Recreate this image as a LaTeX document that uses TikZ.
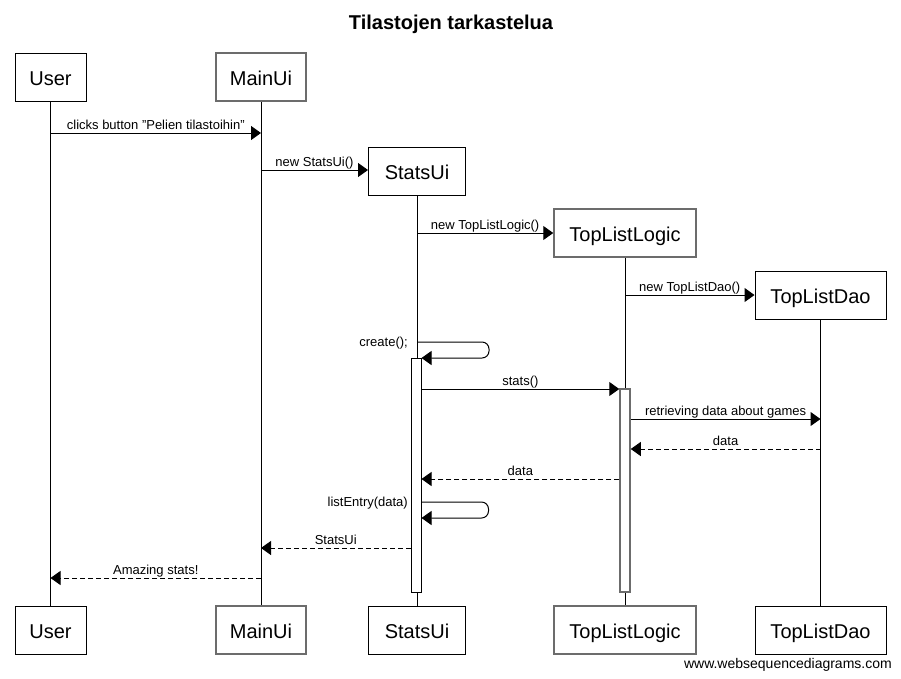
\documentclass[tikz,border=0pt]{standalone}
\usepackage{fontspec}
\setmainfont{Liberation Sans}
\usetikzlibrary{arrows.meta}
\begin{document}
\begin{tikzpicture}[x=1pt,y=-1pt,
  actor/.style={draw=black,line width=1pt,fill=white,minimum height=48pt,inner sep=0pt,text height=17pt,text depth=1pt,font=\fontsize{20}{22}\selectfont},
  grayactor/.style={actor,draw=gray!85!black,line width=1.5pt},
  life/.style={draw=black,line width=1pt},
  msg/.style={draw=black,line width=1pt,-{Triangle[length=10pt,width=14pt]}},
  ret/.style={msg,dash pattern=on 5pt off 3pt},
  lbl/.style={font=\fontsize{13}{15}\selectfont,anchor=base,inner sep=0pt,yshift=4pt},
  slbl/.style={font=\fontsize{13}{15}\selectfont,anchor=east,inner sep=0pt},
  act/.style={draw=black,line width=1pt,fill=white,minimum width=10pt,inner sep=0pt},
  grayact/.style={act,draw=gray!85!black,line width=1.5pt}]
\useasboundingbox (0,0) rectangle (901,678);
\fill[white] (0,0) rectangle (901,678);
\node[font=\fontsize{20}{22}\bfseries\selectfont,anchor=base,inner sep=0pt] (title) at (451,29) {Tilastojen tarkastelua};

% top boxes
\node[actor,minimum width=71pt] (userT) at (50.5,77) {User};
\node[grayactor,minimum width=90pt] (mainT) at (261,77) {MainUi};
\node[actor,minimum width=97pt] (statsT) at (417,171) {StatsUi};
\node[grayactor,minimum width=142pt] (logicT) at (625,233) {TopListLogic};
\node[actor,minimum width=131pt] (daoT) at (820.5,295) {TopListDao};
% bottom boxes
\node[actor,minimum width=71pt] (userB) at (50.5,630) {User};
\node[grayactor,minimum width=90pt] (mainB) at (261,630) {MainUi};
\node[actor,minimum width=97pt] (statsB) at (417,630) {StatsUi};
\node[grayactor,minimum width=142pt] (logicB) at (625,630) {TopListLogic};
\node[actor,minimum width=131pt] (daoB) at (820.5,630) {TopListDao};

% lifelines
\draw[life] (userT) -- (userB);
\draw[life] (mainT) -- (mainB);
\draw[life] (statsT) -- (statsB);
\draw[life] (logicT) -- (logicB);
\draw[life] (daoT) -- (daoB);

% activations
\node[act,minimum height=234pt] (statsAct) at (416,475) {};
\node[grayact,minimum height=203pt] (logicAct) at (625,490.5) {};

% message endpoints
\coordinate (m1a) at (userT |- 0,133);
\coordinate (m1b) at (mainT |- 0,133);
\coordinate (m2a) at (mainT |- 0,170);
\coordinate (m3a) at (statsT |- 0,233);
\coordinate (m4a) at (logicT |- 0,295);
\coordinate (c1a) at (statsT |- 0,342);
\coordinate (c1b) at (statsAct.east |- 0,358);
\coordinate (m6a) at (statsAct.east |- 0,389);
\coordinate (m6b) at (logicAct.west |- 0,389);
\coordinate (m7a) at (logicAct.east |- 0,419);
\coordinate (m7b) at (daoT |- 0,419);
\coordinate (m8a) at (daoT |- 0,449);
\coordinate (m8b) at (logicAct.east |- 0,449);
\coordinate (m9a) at (logicAct.west |- 0,479);
\coordinate (m9b) at (statsAct.east |- 0,479);
\coordinate (c2a) at (statsAct.east |- 0,502);
\coordinate (c2b) at (statsAct.east |- 0,518);
\coordinate (m11a) at (statsAct.west |- 0,548);
\coordinate (m11b) at (mainT |- 0,548);
\coordinate (m12a) at (mainT |- 0,578);
\coordinate (m12b) at (userT |- 0,578);

\draw[msg] (m1a) -- node[lbl]{clicks button "Pelien tilastoihin"} (m1b);
\draw[msg] (m2a) -- node[lbl]{new StatsUi()} (statsT.west |- m2a);
\draw[msg] (m3a) -- node[lbl]{new TopListLogic()} (logicT.west |- m3a);
\draw[msg] (m4a) -- node[lbl]{new TopListDao()} (daoT.west |- m4a);

\draw[msg,rounded corners=7pt] (c1a) -- ++(72,0) -- ++(0,16) -- (c1b);
\node[slbl] (c1l) at (408,343) {create();};

\draw[msg] (m6a) -- node[lbl]{stats()} (m6b);
\draw[msg] (m7a) -- node[lbl]{retrieving data about games} (m7b);
\draw[ret] (m8a) -- node[lbl]{data} (m8b);
\draw[ret] (m9a) -- node[lbl]{data} (m9b);

\draw[msg,rounded corners=7pt] (c2a) -- ++(67,0) -- ++(0,16) -- (c2b);
\node[slbl] (c2l) at (408,503) {listEntry(data)};

\draw[ret] (m11a) -- node[lbl]{StatsUi} (m11b);
\draw[ret] (m12a) -- node[lbl]{Amazing stats!} (m12b);

\node[font=\fontsize{14}{16}\selectfont,anchor=base east,inner sep=0pt] (wm) at (892,668) {www.websequencediagrams.com};
\end{tikzpicture}
\end{document}
